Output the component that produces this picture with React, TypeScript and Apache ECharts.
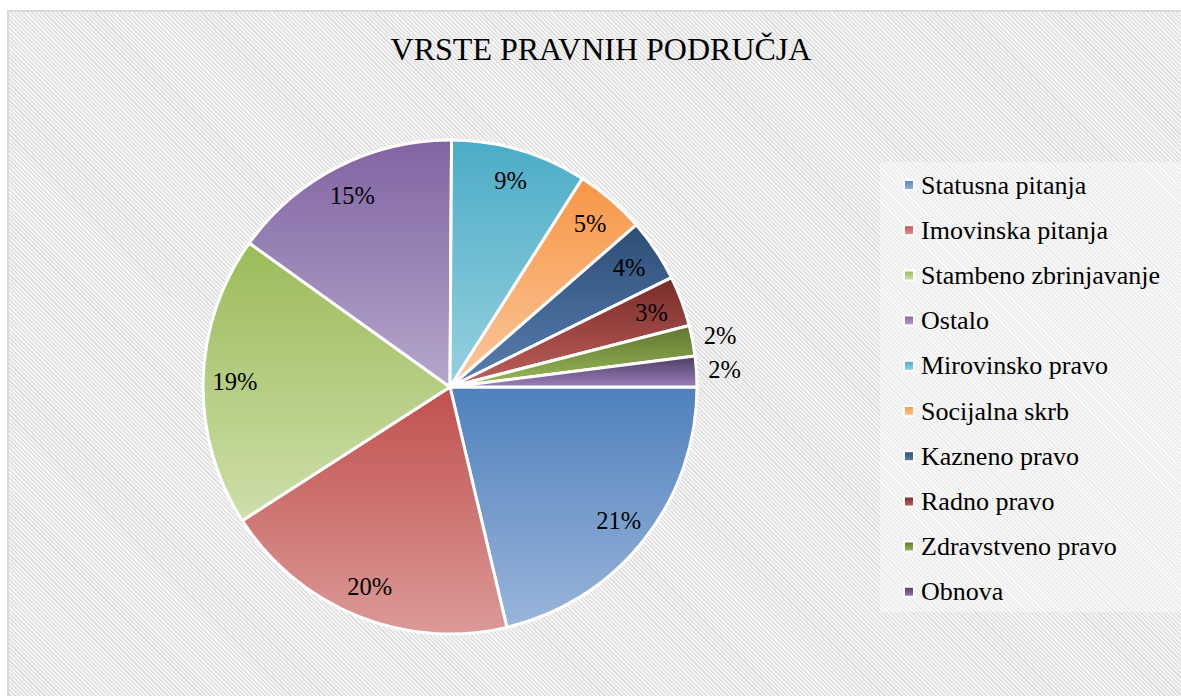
import React, { useEffect, useRef } from "react";
import * as echarts from "echarts";

const categories = [
  "Statusna pitanja",
  "Imovinska pitanja",
  "Stambeno zbrinjavanje",
  "Ostalo",
  "Mirovinsko pravo",
  "Socijalna skrb",
  "Kazneno pravo",
  "Radno pravo",
  "Zdravstveno pravo",
  "Obnova",
];
const values = [21.3, 19.6, 19.0, 15.2, 8.9, 4.6, 4.1, 3.3, 2.0, 2.0];
const topColors = ["#4f81bd", "#c0504d", "#9bbb59", "#8064a2", "#4bacc6", "#f79646", "#2c4d75", "#772c2a", "#5f7530", "#4d3b62"];
const bottomColors = ["#9ab5da", "#dc9a98", "#cddfaa", "#b6a7cc", "#97d1e0", "#fbc79c", "#5a80b0", "#c0605c", "#9bbb59", "#9a80bb"];
const outsideLabelIdx = [8, 9];
const titleText = "VRSTE PRAVNIH PODRUČJA";

const FONT = "Liberation Serif";

export default function App() {
  const ref = useRef<HTMLDivElement>(null);
  useEffect(() => {
    document.body.style.margin = "0";
    document.body.style.overflow = "hidden";
    const chart = echarts.init(ref.current!, undefined, { renderer: "svg" });
    const cx = 450;
    const cy = 387;
    const R = 247;
    const grad = (i: number) =>
      new echarts.graphic.LinearGradient(0, 0, 0, 1, [
        { offset: 0, color: topColors[i] },
        { offset: 1, color: bottomColors[i] },
      ]);
    const mainData = categories.map((name, i) => ({
      name,
      value: values[i],
      itemStyle: { color: grad(i) },
    }));
    const fmt = (p: any) => Math.round(p.percent) + "%";
    const labelStyle = {
      position: "inside",
      formatter: fmt,
      fontFamily: FONT,
      fontSize: 24.5,
      color: "#000",
    };
    const innerLabelData = categories.map((name, i) => ({
      name,
      value: values[i],
      label: { ...labelStyle, show: !outsideLabelIdx.includes(i) },
    }));
    const outerLabelData = categories.map((name, i) => ({
      name,
      value: values[i],
      label: { ...labelStyle, show: outsideLabelIdx.includes(i) },
    }));
    const labelSeriesBase = {
      type: "pie",
      center: [cx, cy],
      startAngle: 0,
      clockwise: true,
      silent: true,
      itemStyle: { color: "transparent", borderWidth: 0 },
      emphasis: { disabled: true },
      labelLine: { show: false },
      label: labelStyle,
    };
    chart.setOption({
      animation: false,
      backgroundColor: "transparent",
      textStyle: { fontFamily: FONT },
      legend: {
        orient: "vertical",
        left: 903,
        top: 172,
        padding: 0,
        itemWidth: 10,
        itemHeight: 10,
        itemGap: 19.2,
        icon: "rect",
        data: categories,
        selectedMode: false,
        textStyle: {
          fontFamily: FONT,
          fontSize: 26,
          lineHeight: 26,
          color: "#000",
          padding: [0, 0, 0, 2],
        },
      },
      graphic: [
        {
          type: "rect",
          shape: { x: 880, y: 162, width: 320, height: 450 },
          style: { fill: "rgba(255,255,255,0.4)" },
          z: -1,
        },
        {
          type: "text",
          x: 601,
          y: 49,
          style: {
            text: titleText,
            fontFamily: FONT,
            fontSize: 32,
            fill: "#000",
            textAlign: "center",
            textVerticalAlign: "middle",
          },
        },
      ],
      series: [
        {
          type: "pie",
          center: [cx, cy],
          radius: [0, R],
          startAngle: 0,
          clockwise: true,
          data: mainData,
          label: { show: false },
          labelLine: { show: false },
          itemStyle: { borderColor: "#ffffff", borderWidth: 3 },
          emphasis: { disabled: true },
        },
        { ...labelSeriesBase, radius: [R - 70, R], data: innerLabelData },
        { ...labelSeriesBase, radius: [R, R + 50], data: outerLabelData },
      ],
    });
    return () => chart.dispose();
  }, []);
  return (
    <div style={{ position: "relative", width: 1181, height: 696, overflow: "hidden", background: "#fff" }}>
      <div
        style={{
          position: "absolute",
          left: 7,
          top: 10,
          width: 1200,
          height: 700,
          borderLeft: "2px solid #d9d9d9",
          borderTop: "2px solid #d9d9d9",
          background:
            "repeating-linear-gradient(45deg, #e0e0e0 0px, #e0e0e0 1.5px, #f6f6f6 1.5px, #f6f6f6 3px)",
        }}
      />
      <div ref={ref} style={{ position: "absolute", left: 0, top: 0, width: 1181, height: 696 }} />
    </div>
  );
}
